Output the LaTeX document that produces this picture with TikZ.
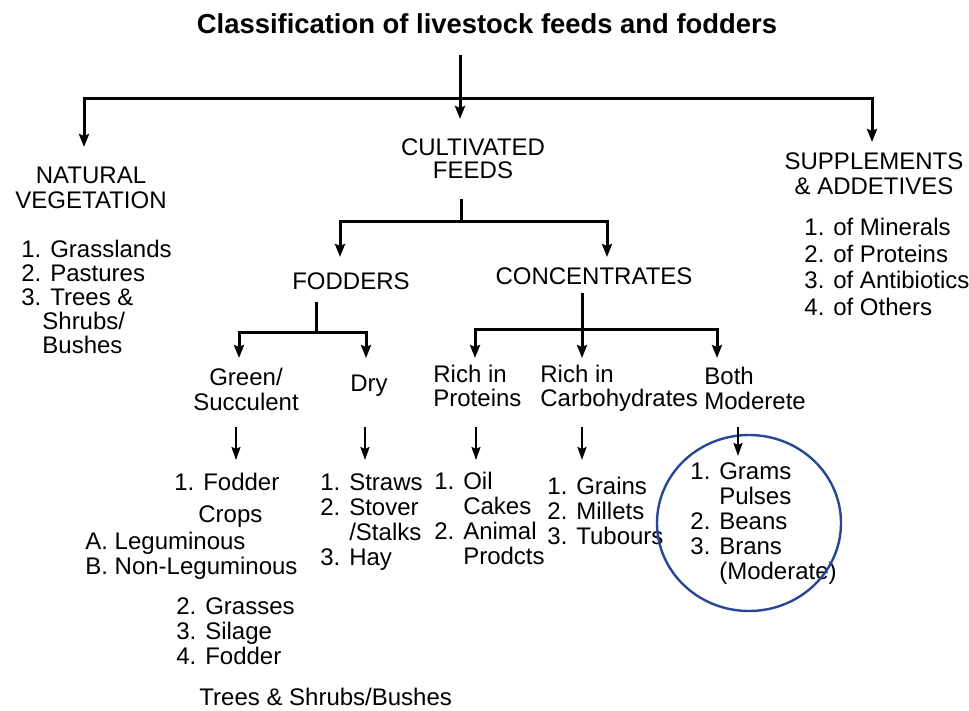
\documentclass[tikz,border=0pt]{standalone}
\usepackage{fontspec}
\setmainfont{Liberation Sans}
\usetikzlibrary{arrows.meta}
\definecolor{ringblue}{RGB}{40,70,150}
\tikzset{
	heading/.style={inner sep=0pt,anchor=north,font=\bfseries\fontsize{13.7}{14}\selectfont},
	lbl/.style={inner sep=0pt,anchor=north,align=center,font=\fontsize{12}{12.5}\selectfont},
	lst/.style={inner sep=0pt,anchor=north west,align=left,font=\fontsize{12}{12.5}\selectfont},
	bar/.style={line width=1.5pt},
	arr/.style={line width=1.5pt,-{Stealth[length=6.5pt,width=5pt,inset=1pt]}},
	sarr/.style={line width=1pt,-{Stealth[length=6.5pt,width=4.5pt,inset=1pt]}},
	ring/.style={draw=ringblue,line width=1.2pt}
}
\begin{document}
\begin{tikzpicture}[x=0.5pt,y=-0.5pt]
	\useasboundingbox (0,0) rectangle (969,711);
	% headings
	\node[heading] (title) at (487,13) {Classification of livestock feeds and fodders};
	\node[lbl] (nat) at (91,167) {NATURAL\\VEGETATION};
	\node[lbl,font=\fontsize{12}{11.75}\selectfont] (cult) at (473,138) {CULTIVATED\\FEEDS};
	\node[lbl] (supp) at (874,152) {SUPPLEMENTS\\\& ADDETIVES};
	\node[lst,font=\fontsize{12}{12}\selectfont] (natlist) at (21,240) {1. Grasslands\\2. Pastures\\3. Trees \&\\\hspace*{10.5pt}Shrubs/\\\hspace*{10.5pt}Bushes};
	\node[lst,font=\fontsize{12}{13.3}\selectfont] (supplist) at (804,218) {1. of Minerals\\2. of Proteins\\3. of Antibiotics\\4. of Others};
	\node[lbl] (fod) at (351,272) {FODDERS};
	\node[lbl] (conc) at (594,267) {CONCENTRATES};
	% third level
	\node[lbl] (green) at (246,368) {Green/\\Succulent};
	\node[lbl] (dry) at (369,375) {Dry};
	\node[lst,font=\fontsize{12}{12}\selectfont] (prot) at (433,365) {Rich in\\Proteins};
	\node[lst,font=\fontsize{12}{12}\selectfont] (carb) at (540,365) {Rich in\\Carbohydrates};
	\node[lst] (both) at (704,367) {Both\\Moderete};
	% lists
	\node[lst] (gr1) at (174,473) {1. Fodder};
	\node[lst] (gr2) at (198,505) {Crops};
	\node[lst] (gr3) at (85,532) {A. Leguminous\\B. Non-Leguminous};
	\node[lst] (gr4) at (176,597) {2. Grasses\\3. Silage\\4. Fodder};
	\node[lst] (gr5) at (199,688) {Trees \& Shrubs/Bushes};
	\node[lst] (drylist) at (320,473) {1. Straws\\2. Stover\\\hphantom{2. }/Stalks\\3. Hay};
	\node[lst] (protlist) at (434,472) {1. Oil\\\hphantom{1. }Cakes\\2. Animal\\\hphantom{2. }Prodcts};
	\node[lst] (carblist) at (547,477) {1. Grains\\2. Millets\\3. Tubours};
	\node[lst] (bothlist) at (690,462) {1. Grams\\\hphantom{1. }Pulses\\2. Beans\\3. Brans\\\hphantom{3. }(Moderate)};
	\draw[ring] (749,523) ellipse [x radius=46pt,y radius=44pt];
	% junctions and arrow tips
	\coordinate (top) at (460,55);
	\coordinate (hub) at (460,99);
	\coordinate (natin) at (84,147);
	\coordinate (cultin) at (460,119);
	\coordinate (suppin) at (872,142);
	\coordinate (c0) at (461,199);
	\coordinate (c1) at (461,222);
	\coordinate (fodin) at (340,257);
	\coordinate (concin) at (607,257);
	\coordinate (f0) at (316,302);
	\coordinate (f1) at (316,332);
	\coordinate (greenin) at (239,358);
	\coordinate (dryin) at (366,358);
	\coordinate (k0) at (582,293);
	\coordinate (k1) at (582,329);
	\coordinate (protin) at (475,358);
	\coordinate (carbin) at (582,358);
	\coordinate (bothin) at (717,358);
	% connectors
	\draw[arr] (top) -- (cultin);
	\draw[arr] (hub) -| (natin);
	\draw[arr] (hub) -| (suppin);
	\draw[bar] (c0) -- (c1);
	\draw[arr] (c1) -| (fodin);
	\draw[arr] (c1) -| (concin);
	\draw[bar] (f0) -- (f1);
	\draw[arr] (f1) -| (greenin);
	\draw[arr] (f1) -| (dryin);
	\draw[arr] (k0) -- (carbin);
	\draw[arr] (k1) -| (protin);
	\draw[arr] (k1) -| (bothin);
	\foreach \n/\x in {gr/236,dry/365,prot/476,carb/582}{
		\coordinate (\n a) at (\x,427);
		\coordinate (\n b) at (\x,460);
		\draw[sarr] (\n a) -- (\n b);
	}
	\coordinate (btha) at (738,427);
	\coordinate (bthb) at (738,456);
	\draw[sarr] (btha) -- (bthb);
\end{tikzpicture}
\end{document}
